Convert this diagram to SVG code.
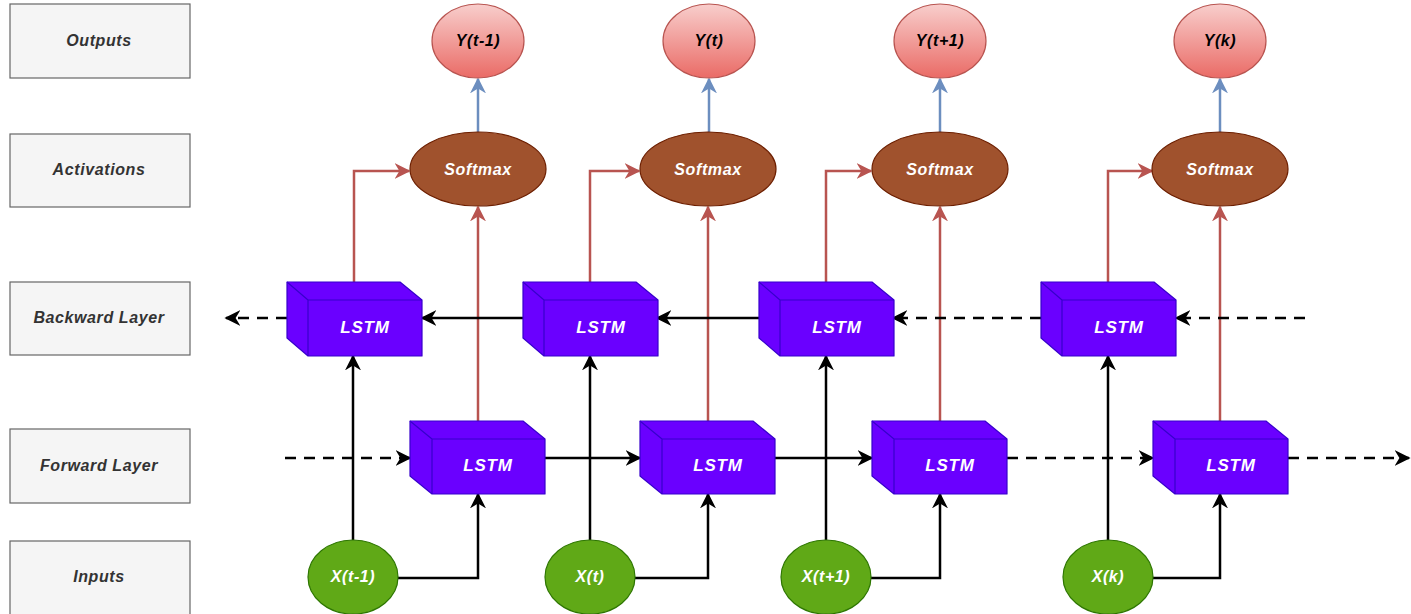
<svg xmlns="http://www.w3.org/2000/svg" width="1411" height="614" viewBox="0 0 1411 614">
<defs>
<style>
.lbl rect{fill:#f5f5f5;stroke:#666666;stroke-width:1.2}
.lbl text{fill:#333333}
text{font-family:"Liberation Sans",Arial,sans-serif;font-weight:bold;font-style:italic;font-size:16px;letter-spacing:0.6px;text-anchor:middle;dominant-baseline:central}
.cube path{fill:#6a00ff;stroke:#3700cc;stroke-width:1.2;stroke-linejoin:round}
.cube text{font-size:17px;letter-spacing:0.8px}
.cube text,.sm text,.in text{fill:#ffffff}
.sm ellipse{fill:#a0522d;stroke:#6d1f00;stroke-width:1.2}
.out ellipse{fill:url(#rg);stroke:#b85450;stroke-width:1.2}
.out text{fill:#000000}
.in ellipse{fill:#60a917;stroke:#2d7600;stroke-width:1.2}
.k{fill:none;stroke:#000;stroke-width:2.5;marker-end:url(#ak)}
.d{stroke-dasharray:11 8}
.r{fill:none;stroke:#b85450;stroke-width:2.5;marker-end:url(#ar)}
.b{fill:none;stroke:#6c8ebf;stroke-width:2.5;marker-end:url(#ab)}
</style>
<linearGradient id="rg" x1="0" y1="0" x2="0" y2="1"><stop offset="0" stop-color="#f8cecc"/><stop offset="1" stop-color="#ea6b66"/></linearGradient>
<marker id="ak" viewBox="0 0 10 10" refX="9" refY="5" markerWidth="16" markerHeight="16" markerUnits="userSpaceOnUse" orient="auto"><path d="M0,0 L10,5 L0,10 L3,5 z" fill="#000"/></marker>
<marker id="ar" viewBox="0 0 10 10" refX="9" refY="5" markerWidth="16" markerHeight="16" markerUnits="userSpaceOnUse" orient="auto"><path d="M0,0 L10,5 L0,10 L3,5 z" fill="#b85450"/></marker>
<marker id="ab" viewBox="0 0 10 10" refX="9" refY="5" markerWidth="16" markerHeight="16" markerUnits="userSpaceOnUse" orient="auto"><path d="M0,0 L10,5 L0,10 L3,5 z" fill="#6c8ebf"/></marker>
</defs>
<rect width="1411" height="614" fill="#ffffff"/>

<g id="labels">
<g id="lbl-outputs" class="lbl"><rect x="10" y="4" width="180" height="74"/><text x="99" y="40">Outputs</text></g>
<g id="lbl-activations" class="lbl"><rect x="10" y="134" width="180" height="73"/><text x="99" y="169">Activations</text></g>
<g id="lbl-backward" class="lbl"><rect x="10" y="282" width="180" height="73"/><text x="99" y="317">Backward Layer</text></g>
<g id="lbl-forward" class="lbl"><rect x="10" y="429" width="180" height="74"/><text x="99" y="465">Forward Layer</text></g>
<g id="lbl-inputs" class="lbl"><rect x="10" y="541" width="180" height="76"/><text x="99" y="576">Inputs</text></g>
</g>

<g id="connectors">
<path class="b" d="M478,132 V79"/>
<path class="b" d="M709,132 V79"/>
<path class="b" d="M940,132 V79"/>
<path class="b" d="M1220,132 V79"/>
<path class="r" d="M354,282 V171 H409"/>
<path class="r" d="M590,282 V171 H639"/>
<path class="r" d="M826,282 V171 H871"/>
<path class="r" d="M1108,282 V171 H1152"/>
<path class="r" d="M478,421 V207"/>
<path class="r" d="M708,421 V207"/>
<path class="r" d="M940,421 V207"/>
<path class="r" d="M1220,421 V207"/>
<path class="k d" d="M287,318 H226"/>
<path class="k" d="M523,318 H422"/>
<path class="k" d="M759,318 H657"/>
<path class="k d" d="M1041,318 H893"/>
<path class="k d" d="M1305,318 H1176"/>
<path class="k d" d="M285,458 H410"/>
<path class="k" d="M545,458 H640"/>
<path class="k" d="M775,458 H872"/>
<path class="k d" d="M1007,458 H1153"/>
<path class="k d" d="M1288,458 H1409"/>
<path class="k" d="M353,540 V356"/>
<path class="k" d="M590,540 V356"/>
<path class="k" d="M826,540 V356"/>
<path class="k" d="M1108,540 V356"/>
<path class="k" d="M398,578 H478 V494"/>
<path class="k" d="M635,578 H708 V494"/>
<path class="k" d="M871,578 H940 V494"/>
<path class="k" d="M1153,578 H1220 V494"/>
</g>

<g id="bw1" class="cube"><path d="M287,282 H400 L422,300 V356 H308 L287,338 Z"/><path d="M287,282 L308,300 H422 M308,300 V356"/><text x="365" y="327">LSTM</text></g>
<g id="bw2" class="cube"><path d="M523,282 H636 L658,300 V356 H544 L523,338 Z"/><path d="M523,282 L544,300 H658 M544,300 V356"/><text x="601" y="327">LSTM</text></g>
<g id="bw3" class="cube"><path d="M759,282 H872 L894,300 V356 H780 L759,338 Z"/><path d="M759,282 L780,300 H894 M780,300 V356"/><text x="837" y="327">LSTM</text></g>
<g id="bw4" class="cube"><path d="M1041,282 H1154 L1176,300 V356 H1062 L1041,338 Z"/><path d="M1041,282 L1062,300 H1176 M1062,300 V356"/><text x="1119" y="327">LSTM</text></g>

<g id="fw1" class="cube"><path d="M410,421 H523 L545,439 V494 H432 L410,476 Z"/><path d="M410,421 L432,439 H545 M432,439 V494"/><text x="488" y="465">LSTM</text></g>
<g id="fw2" class="cube"><path d="M640,421 H753 L775,439 V494 H662 L640,476 Z"/><path d="M640,421 L662,439 H775 M662,439 V494"/><text x="718" y="465">LSTM</text></g>
<g id="fw3" class="cube"><path d="M872,421 H985 L1007,439 V494 H894 L872,476 Z"/><path d="M872,421 L894,439 H1007 M894,439 V494"/><text x="950" y="465">LSTM</text></g>
<g id="fw4" class="cube"><path d="M1153,421 H1266 L1288,439 V494 H1175 L1153,476 Z"/><path d="M1153,421 L1175,439 H1288 M1175,439 V494"/><text x="1231" y="465">LSTM</text></g>

<g id="sm1" class="sm"><ellipse cx="478" cy="169" rx="68" ry="37"/><text x="478" y="169">Softmax</text></g>
<g id="sm2" class="sm"><ellipse cx="708" cy="169" rx="68" ry="37"/><text x="708" y="169">Softmax</text></g>
<g id="sm3" class="sm"><ellipse cx="940" cy="169" rx="68" ry="37"/><text x="940" y="169">Softmax</text></g>
<g id="sm4" class="sm"><ellipse cx="1220" cy="169" rx="68" ry="37"/><text x="1220" y="169">Softmax</text></g>

<g id="y1" class="out"><ellipse cx="478" cy="41" rx="46" ry="37"/><text x="478" y="40">Y(t-1)</text></g>
<g id="y2" class="out"><ellipse cx="709" cy="41" rx="46" ry="37"/><text x="709" y="40">Y(t)</text></g>
<g id="y3" class="out"><ellipse cx="940" cy="41" rx="46" ry="37"/><text x="940" y="40">Y(t+1)</text></g>
<g id="y4" class="out"><ellipse cx="1220" cy="41" rx="46" ry="37"/><text x="1220" y="40">Y(k)</text></g>

<g id="x1" class="in"><ellipse cx="353" cy="577" rx="45" ry="37"/><text x="353" y="576">X(t-1)</text></g>
<g id="x2" class="in"><ellipse cx="590" cy="577" rx="45" ry="37"/><text x="590" y="576">X(t)</text></g>
<g id="x3" class="in"><ellipse cx="826" cy="577" rx="45" ry="37"/><text x="826" y="576">X(t+1)</text></g>
<g id="x4" class="in"><ellipse cx="1108" cy="577" rx="45" ry="37"/><text x="1108" y="576">X(k)</text></g>
</svg>
